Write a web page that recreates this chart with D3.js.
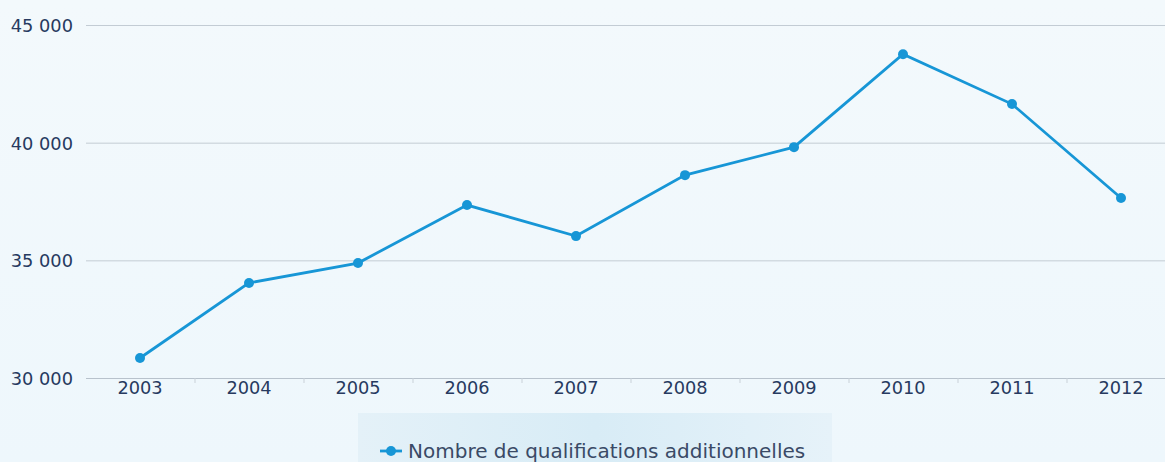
<!DOCTYPE html>
<html>
<head>
<meta charset="utf-8">
<script src="https://cdn.jsdelivr.net/npm/d3@7"></script>
<style>
  body { margin: 0; background: #f1f8fc; }
  svg { display: block; font-family: "DejaVu Sans", sans-serif; }
</style>
</head>
<body>
<svg id="chart" width="1165" height="462"></svg>
<script>
// chart data
var years = ["2003", "2004", "2005", "2006", "2007", "2008", "2009", "2010", "2011", "2012"];
var qualifs = [30850, 34040, 34885, 37350, 36030, 38620, 39810, 43760, 41640, 37650];
var yTicks = [30000, 35000, 40000, 45000];
var seriesName = "Nombre de qualifications additionnelles";

var svg = d3.select("#chart");
var width = +svg.attr("width");
var height = +svg.attr("height");

var lineColor = "#1796d6";
var textColor = "#273a60";
var fontFam = "'DejaVu Sans', sans-serif";

// soft background
var defs = svg.append("defs");
var bg = defs.append("linearGradient").attr("id", "bg").attr("x1", 0).attr("y1", 0).attr("x2", 0).attr("y2", 1);
bg.append("stop").attr("offset", "0%").attr("stop-color", "#f3f9fc");
bg.append("stop").attr("offset", "100%").attr("stop-color", "#eef7fc");
svg.append("rect").attr("width", width).attr("height", height).attr("fill", "url(#bg)");

var x = d3.scaleBand()
    .domain(years)
    .range([85.5, 1175.5]);

var y = d3.scaleLinear()
    .domain([30000, 45000])
    .range([378, 25]);

var fmt = function(d) { return d3.format(",")(d).replace(/,/g, " "); };

// horizontal grid
svg.append("g")
    .selectAll("line")
    .data(yTicks.slice(1))
    .enter().append("line")
    .attr("x1", 86)
    .attr("x2", width)
    .attr("y1", function(d) { return y(d) + 0.5; })
    .attr("y2", function(d) { return y(d) + 0.5; })
    .attr("stroke", "#c3ccd4")
    .attr("stroke-width", 1);

// y axis labels
var yAxis = svg.append("g")
    .attr("transform", "translate(73,0)")
    .call(d3.axisLeft(y).tickValues(yTicks).tickFormat(fmt).tickSize(0).tickPadding(0));
yAxis.select(".domain").remove();
yAxis.selectAll("text")
    .attr("font-size", 17.8)
    .attr("font-family", fontFam)
    .attr("fill", textColor)
    .attr("dy", "0.36em");

// x axis
var xAxis = svg.append("g")
    .attr("transform", "translate(0," + (y(30000) + 0.5) + ")")
    .call(d3.axisBottom(x).tickSize(0).tickPadding(3));
xAxis.select(".domain").attr("stroke", "#b8c2cc").attr("d", "M86,0H" + width);
xAxis.selectAll("text")
    .attr("font-size", 17.8)
    .attr("font-family", fontFam)
    .attr("fill", textColor);

// small separators between categories
svg.append("g")
    .selectAll("line")
    .data(years.slice(1))
    .enter().append("line")
    .attr("x1", function(d) { return x(d) + 0.5; })
    .attr("x2", function(d) { return x(d) + 0.5; })
    .attr("y1", y(30000))
    .attr("y2", y(30000) + 5)
    .attr("stroke", "#c9d1d8");

// the line
var line = d3.line()
    .x(function(d, i) { return x(years[i]) + x.bandwidth() / 2; })
    .y(function(d) { return y(d); });

svg.append("path")
    .datum(qualifs)
    .attr("fill", "none")
    .attr("stroke", lineColor)
    .attr("stroke-width", 2.8)
    .attr("d", line);

svg.append("g")
    .selectAll("circle")
    .data(qualifs)
    .enter().append("circle")
    .attr("cx", function(d, i) { return x(years[i]) + x.bandwidth() / 2; })
    .attr("cy", function(d) { return y(d); })
    .attr("r", 5)
    .attr("fill", lineColor);

// legend
var lg = defs.append("linearGradient").attr("id", "lg").attr("x1", 0).attr("y1", 0).attr("x2", 1).attr("y2", 0);
lg.append("stop").attr("offset", "0%").attr("stop-color", "#e4f1f8");
lg.append("stop").attr("offset", "50%").attr("stop-color", "#d8ecf6");
lg.append("stop").attr("offset", "100%").attr("stop-color", "#e6f2f9");

var legend = svg.append("g").attr("transform", "translate(358,413)");
legend.append("rect")
    .attr("width", 474)
    .attr("height", 60)
    .attr("fill", "url(#lg)");

legend.append("line")
    .attr("x1", 22).attr("x2", 44)
    .attr("y1", 38).attr("y2", 38)
    .attr("stroke", lineColor)
    .attr("stroke-width", 2.8);
legend.append("circle")
    .attr("cx", 33).attr("cy", 38).attr("r", 5)
    .attr("fill", lineColor);
legend.append("text")
    .attr("x", 50)
    .attr("y", 38)
    .attr("dy", "0.36em")
    .attr("font-size", 20)
    .attr("fill", "#3a4a66")
    .text(seriesName);
</script>
</body>
</html>
